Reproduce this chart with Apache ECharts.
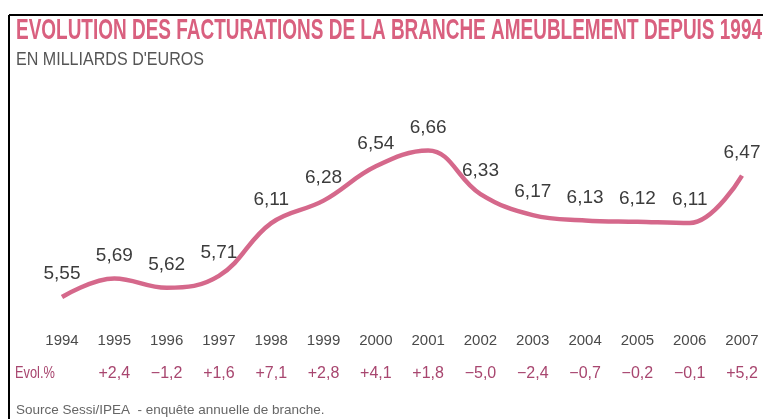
<!DOCTYPE html>
<html>
<head>
<meta charset="utf-8">
<script src="https://cdn.jsdelivr.net/npm/echarts@6/dist/echarts.min.js"></script>
<style>
  html, body { margin: 0; padding: 0; background: #fff; }
  #main { width: 763px; height: 419px; }
</style>
</head>
<body>
<div id="main"></div>
<script>
// données
var annees = ['1994', '1995', '1996', '1997', '1998', '1999', '2000', '2001', '2002', '2003', '2004', '2005', '2006', '2007'];
var facturations = [5.55, 5.69, 5.62, 5.71, 6.11, 6.28, 6.54, 6.66, 6.33, 6.17, 6.13, 6.12, 6.11, 6.47];
var evolutions = ['', '+2,4', '\u22121,2', '+1,6', '+7,1', '+2,8', '+4,1', '+1,8', '\u22125,0', '\u22122,4', '\u22120,7', '\u22120,2', '\u22120,1', '+5,2'];

var titre = 'EVOLUTION DES FACTURATIONS DE LA BRANCHE AMEUBLEMENT DEPUIS 1994';
var sousTitre = "EN MILLIARDS D'EUROS";

// largeur du texte pour le compresser (police condensée dans l'original)
var ctx = document.createElement('canvas').getContext('2d');
function largeur(txt, font) {
  ctx.font = font;
  return ctx.measureText(txt).width;
}
var scaleTitre = 746 / largeur(titre, 'bold 30px "Liberation Sans"');
var scaleSous = 188 / largeur(sousTitre, '19px "Liberation Sans"');

var myChart = echarts.init(document.getElementById('main'));

var option = {
  backgroundColor: '#fff',
  animation: false,
  grid: {
    left: 62,
    right: 21,
    top: 132,
    bottom: 89
  },
  xAxis: {
    type: 'category',
    boundaryGap: false,
    data: annees,
    axisLine: { show: false },
    axisTick: { show: false },
    splitLine: { show: false },
    axisLabel: {
      margin: 0,
      interval: 0,
      formatter: function (val, idx) {
        return '{an|' + val + '}\n{ev|' + evolutions[idx] + '}';
      },
      rich: {
        an: {
          fontFamily: 'Liberation Sans',
          fontSize: 15,
          color: '#4a4a4a',
          lineHeight: 22
        },
        ev: {
          fontFamily: 'Liberation Sans',
          fontSize: 16,
          color: '#a8466f',
          lineHeight: 44
        }
      }
    }
  },
  yAxis: {
    type: 'value',
    min: 5.3,
    max: 6.8,
    show: false
  },
  series: [
    {
      name: 'Facturations',
      type: 'line',
      smooth: 0.4,
      data: facturations,
      showSymbol: true,
      symbol: 'circle',
      symbolSize: 1,
      itemStyle: { color: 'rgba(0,0,0,0)' },
      lineStyle: {
        color: '#d5688b',
        width: 4.5
      },
      label: {
        show: true,
        position: 'top',
        distance: 13,
        fontFamily: 'Liberation Sans',
        fontSize: 19,
        color: '#3c3c3c',
        formatter: function (p) {
          return p.value.toFixed(2).replace('.', ',');
        }
      }
    }
  ],
  graphic: [
    {
      type: 'line',
      shape: { x1: 9, y1: 15, x2: 763, y2: 15 },
      style: { stroke: '#000', lineWidth: 2 }
    },
    {
      type: 'line',
      shape: { x1: 9, y1: 15, x2: 9, y2: 419 },
      style: { stroke: '#000', lineWidth: 2 }
    },
    {
      type: 'text',
      x: 16,
      y: 16,
      scaleX: scaleTitre,
      style: {
        text: titre,
        fontFamily: 'Liberation Sans',
        fontWeight: 'bold',
        fontSize: 30,
        fill: '#d9607f'
      }
    },
    {
      type: 'text',
      x: 16,
      y: 50,
      scaleX: scaleSous,
      style: {
        text: sousTitre,
        fontFamily: 'Liberation Sans',
        fontSize: 19,
        fill: '#555'
      }
    },
    {
      type: 'text',
      x: 15,
      y: 366,
      scaleX: 0.8,
      style: {
        text: 'Evol.%',
        fontFamily: 'Liberation Sans',
        fontSize: 16,
        fill: '#a8466f'
      }
    },
    {
      type: 'text',
      x: 16,
      y: 403,
      style: {
        text: 'Source Sessi/IPEA  - enquête annuelle de branche.',
        fontFamily: 'Liberation Sans',
        fontSize: 13.5,
        fill: '#666'
      }
    }
  ]
};

myChart.setOption(option);
</script>
</body>
</html>
